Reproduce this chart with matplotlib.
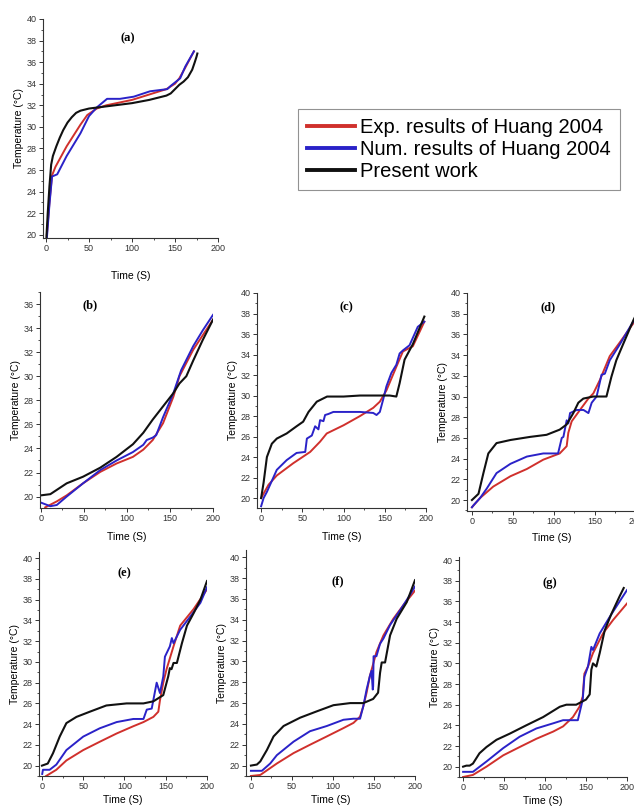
import matplotlib
matplotlib.use("Agg")
import matplotlib.pyplot as plt
from matplotlib.lines import Line2D
from matplotlib.ticker import MultipleLocator

plt.rcParams['font.family'] = ['Liberation Sans', 'DejaVu Sans']

W, H = 634, 807
RED = '#d0302c'
BLUE = '#2a22c8'
BLACK = '#111111'

# ---- panel (a) ----
a_blk_t = [0.5, 2, 4, 6, 8, 12, 16, 20, 25, 30, 35, 40, 50, 60, 80, 100, 120, 140, 145, 150, 155, 160, 165, 170, 173, 175, 176]
a_blk_T = [19.8, 22, 24.5, 26.5, 27.3, 28.2, 29, 29.7, 30.4, 30.9, 31.3, 31.5, 31.7, 31.8, 32.0, 32.2, 32.5, 32.9, 33.1, 33.5, 33.9, 34.2, 34.6, 35.3, 36.0, 36.5, 36.8]
a_red_t = [1, 4, 7, 11, 24, 40, 48, 59, 70, 100, 120, 140, 150, 155, 162, 172]
a_red_T = [20, 23, 25.5, 26.3, 28.2, 30.2, 31.1, 31.7, 32, 32.5, 33, 33.5, 34, 34.5, 35.5, 37]
a_blu_t = [1, 4, 7, 13, 24, 40, 50, 59, 71, 86, 102, 121, 141, 145, 156, 162, 172]
a_blu_T = [19.7, 22.8, 25.4, 25.6, 27.3, 29.4, 31, 31.8, 32.6, 32.6, 32.8, 33.3, 33.5, 33.8, 34.5, 35.6, 37]

# ---- panel (b) ----
b_blk_t = [0, 11, 30, 49, 69, 88, 107, 119, 130, 142, 154, 161, 169, 177, 188, 200]
b_blk_T = [20.1, 20.2, 21.1, 21.65, 22.4, 23.3, 24.35, 25.3, 26.4, 27.5, 28.6, 29.4, 30.0, 31.3, 33.0, 34.7]
b_red_t = [5, 18.5, 30, 49, 69, 88, 107, 119, 130, 142, 154, 161, 177, 200]
b_red_T = [19.1, 19.6, 20.1, 21.1, 22.05, 22.75, 23.3, 23.9, 24.7, 26.1, 28.3, 30.0, 32.2, 34.7]
b_blu_t = [0, 11, 18.5, 30, 49, 69, 88, 107, 119, 123, 130, 134, 142, 154, 163, 177, 188, 200]
b_blu_T = [19.5, 19.2, 19.3, 20.0, 21.1, 22.2, 23.0, 23.7, 24.3, 24.7, 24.9, 25.1, 26.6, 28.6, 30.5, 32.5, 33.8, 35.1]

# ---- panel (c) ----
c_blk_t = [0, 3, 7, 13, 19, 31, 43, 51, 57.5, 67.5, 80, 100, 120, 140, 156, 164, 168, 174, 184, 198]
c_blk_T = [20, 21.5, 24, 25.3, 25.8, 26.3, 27, 27.45, 28.4, 29.4, 29.9, 29.9, 30, 30, 30, 29.9, 31.2, 33.5, 35, 37.7]
c_red_t = [0, 9, 19, 39, 59.5, 71.5, 79.6, 100, 120, 136, 144, 152, 164, 172, 184, 198]
c_red_T = [20, 21.3, 22.2, 23.4, 24.5, 25.5, 26.3, 27.1, 28, 28.8, 29.4, 30.5, 32.8, 34.3, 34.8, 37.2]
c_blu_t = [0, 3, 7, 19, 31, 43, 53.5, 55.5, 59.5, 61.5, 65.5, 69.5, 71.5, 75.6, 77.6, 81.6, 87.6, 100, 120, 136, 140, 144, 148, 152, 158, 164, 168, 172, 180, 190, 198]
c_blu_T = [19.2, 20, 20.6, 22.75, 23.7, 24.4, 24.5, 25.8, 26, 26.1, 27, 26.7, 27.6, 27.5, 28.1, 28.2, 28.4, 28.4, 28.4, 28.3, 28.1, 28.4, 29.6, 30.9, 32.2, 33, 34.1, 34.4, 34.9, 36.7, 37.2]

# ---- panel (d) ----
d_blk_t = [0, 8, 14, 20, 30, 47, 71, 91, 107, 115.5, 123.6, 129.7, 135.8, 148, 164, 170, 176, 184, 197, 202]
d_blk_T = [20, 20.6, 22.6, 24.5, 25.5, 25.8, 26.1, 26.3, 26.8, 27.3, 28.4, 29.4, 29.8, 30, 30, 31.9, 33.5, 35, 37.4, 38.2]
d_red_t = [0, 10, 26, 47, 67, 87, 107, 115.5, 117.5, 121.6, 131.7, 141.9, 148, 156, 168, 180, 197, 202]
d_red_T = [19.3, 20.2, 21.3, 22.3, 23, 23.9, 24.5, 25.2, 26.5, 27.6, 28.7, 29.8, 30.3, 31.6, 33.9, 35.2, 37.1, 37.8]
d_blu_t = [0, 2, 10, 18, 30, 47, 67, 87, 105, 109.5, 111.5, 115.5, 117.5, 119.6, 127.7, 136, 142, 146, 152, 158, 162, 168, 180, 197, 202]
d_blu_T = [19.3, 19.5, 20.2, 21.1, 22.6, 23.5, 24.2, 24.5, 24.5, 26, 26.1, 27.7, 27.4, 28.4, 28.7, 28.7, 28.4, 29.4, 30, 32.1, 32.2, 33.5, 35, 37.3, 38]

# ---- panel (e) ----
e_blk_t = [0, 7, 13.4, 21.5, 29.6, 41.8, 58, 78, 102.6, 123, 135, 147, 151, 153, 155, 157, 159.4, 163.5, 169.6, 175.7, 183.8, 192, 200]
e_blk_T = [20, 20.2, 21.2, 22.8, 24.1, 24.7, 25.2, 25.8, 26, 26, 26.2, 26.8, 28, 28.6, 29.4, 29.3, 29.9, 29.9, 31.8, 33.5, 34.7, 36, 37.8]
e_red_t = [5, 17.4, 29.6, 50, 70, 90.5, 110.7, 123, 135, 141, 143, 147, 151, 159.4, 167.5, 183.8, 200]
e_red_T = [19.0, 19.6, 20.5, 21.5, 22.3, 23.1, 23.8, 24.2, 24.7, 25.2, 26.3, 28, 29.3, 31.5, 33.5, 35.1, 37]
e_blu_t = [0.3, 1.2, 9.3, 17.4, 29.6, 50, 70, 90.5, 110.7, 123, 127, 133, 139, 143, 147, 149, 155, 157.4, 159.4, 167.5, 180, 192, 200]
e_blu_T = [19.2, 19.6, 19.6, 20.1, 21.5, 22.8, 23.6, 24.2, 24.5, 24.5, 25.4, 25.5, 28, 27, 28.6, 30.5, 31.5, 32.3, 31.8, 33.1, 34.4, 35.7, 37.2]

# ---- panel (f) ----
f_blk_t = [0, 7.3, 11.4, 19.5, 27.6, 39.8, 60, 80, 100.6, 121, 137, 149, 155, 157.4, 159.4, 163.5, 169.6, 177.7, 190, 200]
f_blk_T = [20, 20.1, 20.4, 21.5, 22.8, 23.8, 24.6, 25.2, 25.8, 26, 26, 26.4, 27, 28.9, 29.9, 29.9, 32.5, 34.1, 35.7, 37.8]
f_red_t = [0, 11.4, 31.6, 52, 72, 92.5, 112.8, 125, 133, 137, 141, 145, 153, 161.5, 173.6, 185.8, 200]
f_red_T = [19.0, 19.1, 20.2, 21.2, 22, 22.8, 23.6, 24.1, 24.7, 25.7, 27, 28.6, 30.9, 32.5, 34.1, 35.4, 36.8]
f_blu_t = [0, 13.4, 23.5, 31.6, 52, 72, 92.5, 112.8, 125, 133, 137, 141, 145, 147, 148.5, 149, 149.5, 153, 157.4, 161.5, 169.6, 181.7, 194, 200]
f_blu_T = [19.5, 19.5, 20.2, 21, 22.3, 23.3, 23.8, 24.4, 24.5, 24.5, 25.7, 27.3, 28.6, 29.1, 27.3, 27.6, 30.5, 30.5, 31.7, 32.2, 33.5, 34.9, 36.4, 37.2]

# ---- panel (g) ----
g_blk_t = [0, 4, 8, 12, 20, 28.5, 40.7, 57, 77, 97.6, 118, 126, 138, 150, 154.5, 156.5, 158.5, 162.6, 166.7, 172.8, 181, 191, 196]
g_blk_T = [20, 20.1, 20.1, 20.3, 21.3, 21.9, 22.6, 23.2, 24, 24.8, 25.8, 26, 26, 26.5, 27, 29.4, 30, 29.7, 31, 33.2, 34.8, 36.5, 37.3]
g_red_t = [0, 12, 28.5, 49, 69, 89.4, 110, 122, 134, 142, 146, 148, 152.4, 158.5, 170.7, 183, 200]
g_red_T = [19.0, 19.2, 20, 21.1, 21.9, 22.7, 23.4, 23.9, 24.8, 25.8, 26.8, 29, 29.7, 31, 32.9, 34.2, 35.8]
g_blu_t = [0, 12, 28.5, 49, 69, 89.4, 110, 122, 140, 146, 148, 152.4, 156.5, 158.5, 166.7, 178.9, 191, 200]
g_blu_T = [19.5, 19.5, 20.5, 21.8, 22.9, 23.7, 24.2, 24.5, 24.5, 26.5, 28.7, 29.7, 31.6, 31.3, 32.9, 34.5, 36, 37.1]

labels = ['Exp. results of Huang 2004', 'Num. results of Huang 2004', 'Present work']


def box(l, r, t, b):
    # pixel box -> figure fraction
    return [l / W, 1 - b / H, (r - l) / W, (b - t) / H]


def panel(fig, rect, xlim, ylim, ytop, red, blue, black, tag, tag_xy, xpad=4):
    ax = fig.add_axes(rect)
    ax.plot(red[0], red[1], color=RED, lw=1.4)
    ax.plot(blue[0], blue[1], color=BLUE, lw=1.4)
    ax.plot(black[0], black[1], color=BLACK, lw=1.5)
    ax.set_xlim(*xlim)
    ax.set_ylim(*ylim)
    ax.set_xticks([0, 50, 100, 150, 200])
    ax.set_yticks(list(range(20, ytop + 1, 2)))
    ax.xaxis.set_minor_locator(MultipleLocator(25))
    ax.yaxis.set_minor_locator(MultipleLocator(1))
    ax.tick_params(which='major', direction='out', length=3, width=0.7,
                   labelsize=6.5, pad=1.5, colors='#333333')
    ax.tick_params(which='minor', direction='out', length=1.6, width=0.6,
                   colors='#333333')
    for s in ['top', 'right']:
        ax.spines[s].set_visible(False)
    for s in ['left', 'bottom']:
        ax.spines[s].set_linewidth(0.8)
        ax.spines[s].set_color('#333333')
    ax.set_xlabel('Time (S)', fontsize=7.5, labelpad=xpad)
    ax.set_ylabel('Temperature (°C)', fontsize=7.5, labelpad=2)
    ax.text(tag_xy[0], tag_xy[1], tag, fontsize=9, fontweight='bold',
            family='Liberation Serif', ha='center', va='center')
    return ax


fig = plt.figure(figsize=(W / 100, H / 100), dpi=100)

panel(fig, box(43, 218, 19, 238), (-3.5, 200), (19.7, 40), 40,
      (a_red_t, a_red_T), (a_blu_t, a_blu_T), (a_blk_t, a_blk_T), '(a)', (95, 38.2), xpad=13)
panel(fig, box(40, 213, 292, 508), (-1, 200), (19.05, 37), 36,
      (b_red_t, b_red_T), (b_blu_t, b_blu_T), (b_blk_t, b_blk_T), '(b)', (57, 35.9), xpad=6)
panel(fig, box(257, 426, 293, 508), (-5, 200), (19.03, 40), 40,
      (c_red_t, c_red_T), (c_blu_t, c_blu_T), (c_blk_t, c_blk_T), '(c)', (103, 38.6), xpad=6)
panel(fig, box(467, 636, 293, 511), (-6, 200), (18.94, 40), 40,
      (d_red_t, d_red_T), (d_blu_t, d_blu_T), (d_blk_t, d_blk_T), '(d)', (93, 38.6), xpad=5)
panel(fig, box(39, 207, 552, 776), (-3.6, 200), (19.0, 40.6), 40,
      (e_red_t, e_red_T), (e_blu_t, e_blu_T), (e_blk_t, e_blk_T), '(e)', (100, 38.55), xpad=3)
panel(fig, box(246, 415, 550, 776), (-6, 200), (19.0, 40.7), 40,
      (f_red_t, f_red_T), (f_blu_t, f_blu_T), (f_blk_t, f_blk_T), '(f)', (106, 37.7), xpad=3)
panel(fig, box(459, 627, 557, 777), (-5, 200), (19.0, 40.3), 40,
      (g_red_t, g_red_T), (g_blu_t, g_blu_T), (g_blk_t, g_blk_T), '(g)', (106, 37.8), xpad=3)

handles = [Line2D([], [], color=RED, lw=2.8),
           Line2D([], [], color=BLUE, lw=2.8),
           Line2D([], [], color=BLACK, lw=2.8)]
leg = fig.legend(handles, labels, loc='upper left',
                 bbox_to_anchor=(298 / W, 1 - 109 / H), fontsize=14.5,
                 frameon=True, fancybox=False, edgecolor='#777777',
                 handlelength=2.4, handletextpad=0.25, borderpad=0.45,
                 labelspacing=0.15, borderaxespad=0)
leg.get_frame().set_linewidth(0.8)

fig.savefig('out.png', dpi=100)
